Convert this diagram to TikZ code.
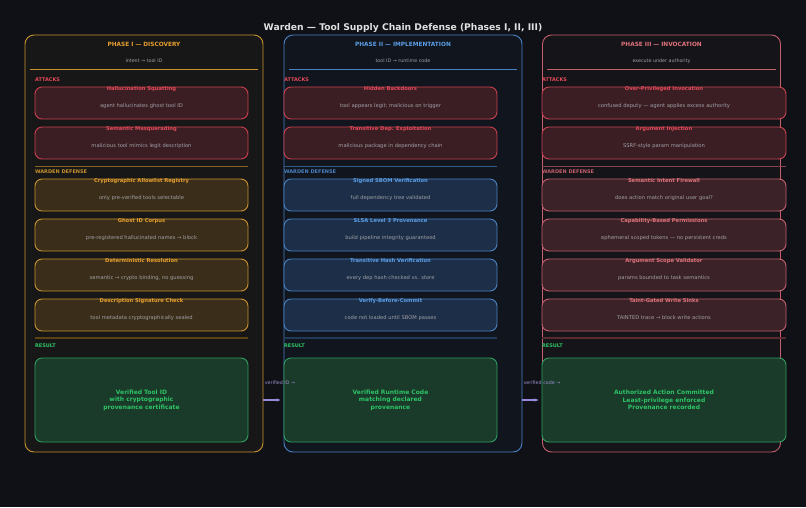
\documentclass[tikz,border=0pt]{standalone}
\usepackage{fontspec}
\setmainfont{DejaVu Sans}
\usetikzlibrary{arrows.meta}
\definecolor{bgDark}{HTML}{0F1116}
\definecolor{descGray}{HTML}{A0A0A4}
\definecolor{oneLine}{HTML}{C8922E}
\definecolor{oneText}{HTML}{E8A030}
\definecolor{oneFill}{HTML}{3A2E1A}
\definecolor{twoLine}{HTML}{4A82C4}
\definecolor{twoText}{HTML}{5C9EE6}
\definecolor{twoFill}{HTML}{1C2E48}
\definecolor{threeLine}{HTML}{C4606A}
\definecolor{threeText}{HTML}{E2747C}
\definecolor{threeFill}{HTML}{3A2228}
\definecolor{atkLine}{HTML}{C8404E}
\definecolor{atkText}{HTML}{E44A5A}
\definecolor{atkFill}{HTML}{3A1E24}
\definecolor{resLine}{HTML}{2E9E5E}
\definecolor{resText}{HTML}{2EC466}
\definecolor{resFill}{HTML}{1A3A2A}
\definecolor{arrowViolet}{HTML}{9A88DA}
\begin{document}
\begin{tikzpicture}
        [x=1pt, y=-1pt,
        panel/.style={draw, rounded corners=9pt, line width=0.9pt, minimum width=238, minimum height=417},
        card/.style={draw, rounded corners=7pt, line width=0.9pt, minimum height=32, align=center, text height=9pt, text depth=0pt, font=\fontsize{5.2}{7}\selectfont},
        tag/.style={anchor=west, font=\fontsize{5}{6}\selectfont\bfseries},
        result/.style={draw=resLine, fill=resFill, rounded corners=7pt, line width=0.9pt, minimum height=84, align=center, text=resText, font=\fontsize{6}{7.4}\selectfont\bfseries},
        flow/.style={-{Stealth[length=4pt]}, line width=1.2pt, arrowViolet}]
        \fill[bgDark] (0,0) rectangle (806,507);
        \node[font=\fontsize{9.2}{11}\selectfont\bfseries, text=white!88!black] (title) at (403,28) {Warden — Tool Supply Chain Defense (Phases I, II, III)};

        % panels
        \node[panel, draw=oneLine, fill=bgDark!80!oneFill] (pI) at (144,243.5) {};
        \node[panel, draw=twoLine, fill=bgDark!85!twoFill] (pII) at (403,243.5) {};
        \node[panel, draw=threeLine, fill=bgDark!85!threeFill] (pIII) at (661.5,243.5) {};

        % headers
        \node[font=\fontsize{5.8}{7}\selectfont\bfseries, text=oneText] (hI) at (144,44) {PHASE I — DISCOVERY};
        \node[font=\fontsize{4.8}{6}\selectfont, text=descGray] (sI) at (144,61) {intent → tool ID};
        \node[font=\fontsize{5.8}{7}\selectfont\bfseries, text=twoText] (hII) at (403,44) {PHASE II — IMPLEMENTATION};
        \node[font=\fontsize{4.8}{6}\selectfont, text=descGray] (sII) at (403,61) {tool ID → runtime code};
        \node[font=\fontsize{5.8}{7}\selectfont\bfseries, text=threeText] (hIII) at (661.5,44) {PHASE III — INVOCATION};
        \node[font=\fontsize{4.8}{6}\selectfont, text=descGray] (sIII) at (661.5,61) {execute under authority};
        \draw[oneLine, line width=0.7pt] (30,69) -- (258,69);
        \draw[twoLine, line width=0.7pt] (289,69) -- (517,69);
        \draw[threeLine, line width=0.7pt] (547,69) -- (776,69);

        % section tags and separators
        \foreach \x/\w/\c/\p in {35/213/oneLine/I, 284/213/twoLine/II, 542/244/threeLine/III}{
            \node[tag, text=atkText] (atk\p) at (\x-3.5,80) {ATTACKS};
            \node[tag, text=\c] (def\p) at (\x-3.5,172) {WARDEN DEFENSE};
            \node[tag, text=resText] (res\p) at (\x-3.5,346) {RESULT};
            \draw[\c!70!black, line width=1pt] (\x,166) -- ++(\w,0);
            \draw[\c!45!black, line width=1.4pt] (\x,338) -- ++(\w,0);
        }

        % attack cards
        \foreach \t/\d [count=\i] in {Hallucination Squatting/agent hallucinates ghost tool ID, Semantic Masquerading/malicious tool mimics legit description}
            \node[card, minimum width=213, draw=atkLine, fill=atkFill] (aI\i) at (141.5,63+40*\i) {\textcolor{atkText}{\bfseries\t}\\[10.5pt]\textcolor{descGray}{\d}};
        \foreach \t/\d [count=\i] in {Hidden Backdoors/{tool appears legit; malicious on trigger}, Transitive Dep. Exploitation/malicious package in dependency chain}
            \node[card, minimum width=213, draw=atkLine, fill=atkFill] (aII\i) at (390.5,63+40*\i) {\textcolor{atkText}{\bfseries\t}\\[10.5pt]\textcolor{descGray}{\d}};
        \foreach \t/\d [count=\i] in {Over-Privileged Invocation/confused deputy — agent applies excess authority, Argument Injection/SSRF-style param manipulation}
            \node[card, minimum width=244, draw=atkLine!85!threeLine, fill=atkFill] (aIII\i) at (664,63+40*\i) {\textcolor{atkText}{\bfseries\t}\\[10.5pt]\textcolor{descGray}{\d}};

        % defense cards
        \foreach \t/\d [count=\i] in {Cryptographic Allowlist Registry/only pre-verified tools selectable, Ghost ID Corpus/pre-registered hallucinated names → block, Deterministic Resolution/{semantic → crypto binding, no guessing}, Description Signature Check/tool metadata cryptographically sealed}
            \node[card, minimum width=213, draw=oneLine, fill=oneFill] (dI\i) at (141.5,155+40*\i) {\textcolor{oneText}{\bfseries\t}\\[10.5pt]\textcolor{descGray}{\d}};
        \foreach \t/\d [count=\i] in {Signed SBOM Verification/full dependency tree validated, SLSA Level 3 Provenance/build pipeline integrity guaranteed, Transitive Hash Verification/every dep hash checked vs. store, Verify-Before-Commit/code not loaded until SBOM passes}
            \node[card, minimum width=213, draw=twoLine, fill=twoFill] (dII\i) at (390.5,155+40*\i) {\textcolor{twoText}{\bfseries\t}\\[10.5pt]\textcolor{descGray}{\d}};
        \foreach \t/\d [count=\i] in {Semantic Intent Firewall/does action match original user goal?, Capability-Based Permissions/ephemeral scoped tokens — no persistent creds, Argument Scope Validator/params bounded to task semantics, Taint-Gated Write Sinks/TAINTED trace → block write actions}
            \node[card, minimum width=244, draw=threeLine, fill=threeFill] (dIII\i) at (664,155+40*\i) {\textcolor{threeText}{\bfseries\t}\\[10.5pt]\textcolor{descGray}{\d}};

        % results
        \node[result, minimum width=213] (rI) at (141.5,400) {Verified Tool ID\\with cryptographic\\provenance certificate};
        \node[result, minimum width=213] (rII) at (390.5,400) {Verified Runtime Code\\matching declared\\provenance};
        \node[result, minimum width=244] (rIII) at (664,400) {Authorized Action Committed\\Least-privilege enforced\\Provenance recorded};

        % hand-offs
        \draw[flow] (pI.east |- rI) -- ([xshift=-3pt]rII.west);
        \draw[flow] (pII.east |- rII) -- ([xshift=-3pt]rIII.west);
        \node[font=\fontsize{4.8}{6}\selectfont, text=arrowViolet!70!descGray] (lI) at (280,383) {verified ID →};
        \node[font=\fontsize{4.8}{6}\selectfont, text=arrowViolet!70!descGray] (lII) at (542,383) {verified code →};
\end{tikzpicture}
\end{document}
